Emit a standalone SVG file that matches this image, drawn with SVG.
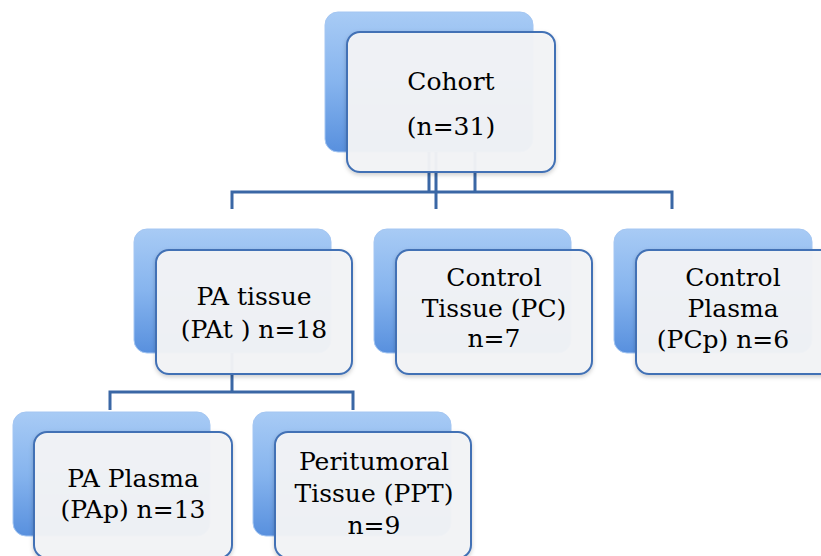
<svg xmlns="http://www.w3.org/2000/svg" width="821" height="556" viewBox="0 0 821 556">
<style>
.back{fill:url(#bg);stroke:#a4c6f2;stroke-width:1}
.front{fill:#f3f4f6;fill-opacity:0.96;stroke:#4271b5;stroke-width:2}
.lbl{font-family:"DejaVu Serif","Liberation Serif",serif;font-size:25px;fill:#000;text-anchor:middle}
.con{fill:none;stroke:#3a67a5;stroke-width:3}
</style>
<defs>
<linearGradient id="bg" x1="0" y1="0" x2="0" y2="1">
<stop offset="0" stop-color="#a8cbf5"/>
<stop offset="0.5" stop-color="#86b4ee"/>
<stop offset="1" stop-color="#5890de"/>
</linearGradient>
<filter id="sh" x="-10%" y="-10%" width="120%" height="130%">
<feDropShadow dx="0" dy="2" stdDeviation="2" flood-color="#000" flood-opacity="0.2"/>
</filter>
</defs>
<rect x="0" y="0" width="821" height="556" fill="#fff"/>
<g id="cohort-back"><rect class="back" x="325" y="12" width="208" height="140" rx="13"/></g>
<g id="pat-back"><rect class="back" x="134" y="229" width="197" height="124" rx="13"/></g>
<g id="pc-back"><rect class="back" x="374" y="229" width="197" height="124" rx="13"/></g>
<g id="pcp-back"><rect class="back" x="614" y="229" width="198" height="124" rx="13"/></g>
<g id="pap-back"><rect class="back" x="13" y="412" width="197" height="124" rx="13"/></g>
<g id="ppt-back"><rect class="back" x="253" y="412" width="198" height="124" rx="13"/></g>
<g id="connectors">
<path class="con" d="M429,152 V192 M436,152 V209 M475,152 V192 M232,209 V192 H672 V209"/>
<path class="con" d="M232,353 V392 M110,410 V392 H353 V410"/>
</g>
<g id="cohort">
<rect class="front" x="347" y="32" width="208" height="140" rx="13" filter="url(#sh)"/>
<text class="lbl" x="451" y="90">Cohort</text>
<text class="lbl" x="451" y="135">(n=31)</text>
</g>
<g id="pa-tissue">
<rect class="front" x="156" y="250" width="196" height="124" rx="13" filter="url(#sh)"/>
<text class="lbl" x="254" y="305">PA tissue</text>
<text class="lbl" x="254" y="338">(PAt ) n=18</text>
</g>
<g id="control-tissue">
<rect class="front" x="396" y="250" width="196" height="124" rx="13" filter="url(#sh)"/>
<text class="lbl" x="494" y="286">Control</text>
<text class="lbl" x="494" y="317">Tissue (PC)</text>
<text class="lbl" x="494" y="347">n=7</text>
</g>
<g id="control-plasma">
<rect class="front" x="636" y="250" width="198" height="124" rx="13" filter="url(#sh)"/>
<text class="lbl" x="733" y="286">Control</text>
<text class="lbl" x="733" y="317">Plasma</text>
<text class="lbl" x="723" y="348">(PCp) n=6</text>
</g>
<g id="pa-plasma">
<rect class="front" x="34" y="432" width="198" height="126" rx="13" filter="url(#sh)"/>
<text class="lbl" x="133" y="487">PA Plasma</text>
<text class="lbl" x="133" y="518">(PAp) n=13</text>
</g>
<g id="peritumoral">
<rect class="front" x="275" y="432" width="196" height="126" rx="13" filter="url(#sh)"/>
<text class="lbl" x="374" y="470">Peritumoral</text>
<text class="lbl" x="374" y="502">Tissue (PPT)</text>
<text class="lbl" x="374" y="534">n=9</text>
</g>
</svg>
